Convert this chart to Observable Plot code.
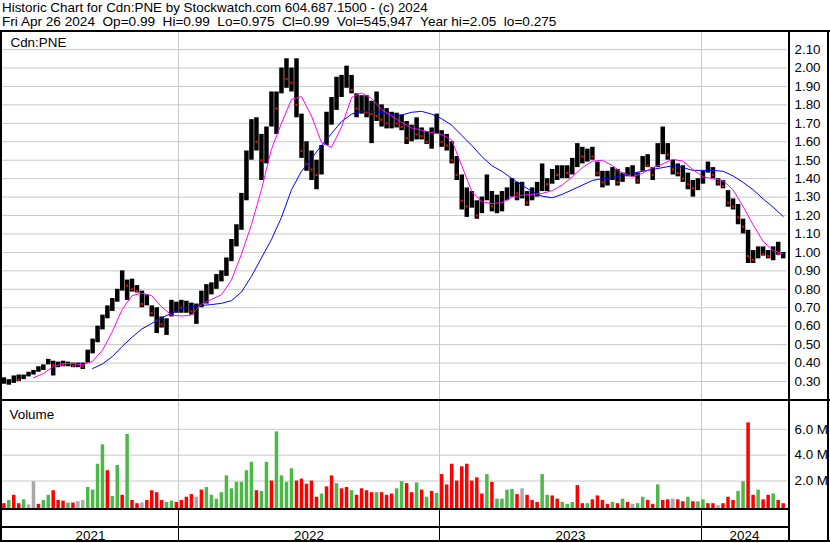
<!DOCTYPE html>
<html><head><meta charset="utf-8">
<script src="https://cdn.jsdelivr.net/npm/d3@7"></script>
<script src="https://cdn.jsdelivr.net/npm/@observablehq/plot@0.6"></script>
<style>
html,body{margin:0;padding:0;background:#fff;}
#root{position:relative;width:830px;height:543px;overflow:hidden;background:#fff;font-family:"Liberation Sans",Arial,sans-serif;color:#000;}
.hdr{position:absolute;left:2px;line-height:14px;white-space:pre;}
.ln{position:absolute;background:#000;}
.panel{position:absolute;left:0;}
.panel svg{display:block;overflow:visible;}
</style></head><body>
<div id="root">
  <div class="hdr" style="top:1px;font-size:13.4px">Historic Chart for Cdn:PNE by Stockwatch.com 604.687.1500 - (c) 2024</div>
  <div class="hdr" style="top:15px;font-size:13.6px">Fri Apr 26 2024  Op=0.99  Hi=0.99  Lo=0.975  Cl=0.99  Vol=545,947  Year hi=2.05  lo=0.275</div>
  <div class="panel" id="price" style="top:32px"></div>
  <div class="panel" id="volume" style="top:401px"></div>
  <div class="panel" id="time" style="top:509px"></div>
  <div class="ln" style="left:0;top:30px;width:830px;height:2px"></div>
  <div class="ln" style="left:0;top:399px;width:830px;height:2px"></div>
  <div class="ln" style="left:0;top:508px;width:790px;height:2px"></div>
  <div class="ln" style="left:0;top:526px;width:790px;height:2px"></div>
  <div class="ln" style="left:0;top:540px;width:830px;height:2px"></div>
  <div class="ln" style="left:0;top:30px;width:2px;height:512px"></div>
  <div class="ln" style="left:788px;top:30px;width:2px;height:512px"></div>
  <div class="ln" style="left:827px;top:30px;width:2px;height:512px"></div>
</div>
<script>
// ---------- data ----------
const symbol = "Cdn:PNE";
const firstWeek = "2021-04-28";   // weekly samples (Wednesdays)
const lastWeek = "2024-04-24";

const low = [
 0.285,0.28,0.29,0.30,0.31,0.325,0.335,0.35,0.36,0.39,
 0.33,0.375,0.38,0.38,0.375,0.375,0.365,0.40,0.45,0.51,
 0.58,0.64,0.68,0.73,0.79,0.74,0.785,0.78,0.70,0.71,
 0.65,0.56,0.59,0.55,0.65,0.67,0.67,0.67,0.66,0.61,
 0.70,0.72,0.77,0.80,0.84,0.87,0.95,1.03,1.12,1.28,
 1.50,1.55,1.39,1.48,1.68,1.64,1.86,1.89,1.87,1.73,
 1.51,1.44,1.39,1.34,1.42,1.58,1.69,1.77,1.84,1.89,
 1.86,1.73,1.75,1.73,1.59,1.71,1.68,1.67,1.67,1.675,
 1.66,1.585,1.60,1.61,1.61,1.585,1.56,1.64,1.57,1.55,
 1.48,1.39,1.23,1.19,1.24,1.18,1.21,1.28,1.22,1.21,
 1.22,1.28,1.30,1.28,1.29,1.25,1.28,1.30,1.33,1.33,
 1.37,1.39,1.40,1.40,1.42,1.46,1.48,1.49,1.50,1.41,
 1.35,1.36,1.39,1.36,1.38,1.41,1.41,1.37,1.44,1.46,
 1.39,1.46,1.53,1.50,1.42,1.41,1.38,1.34,1.30,1.335,
 1.37,1.43,1.40,1.36,1.345,1.245,1.23,1.15,1.10,0.94,
 0.94,0.965,0.98,0.965,0.955,0.985,0.965];
const high = [
 0.32,0.31,0.33,0.335,0.335,0.35,0.36,0.38,0.39,0.42,
 0.41,0.405,0.41,0.405,0.40,0.40,0.40,0.47,0.53,0.60,
 0.66,0.71,0.75,0.80,0.90,0.85,0.855,0.82,0.79,0.77,
 0.71,0.70,0.65,0.64,0.74,0.73,0.74,0.735,0.725,0.72,
 0.79,0.825,0.835,0.88,0.90,0.97,1.07,1.15,1.32,1.55,
 1.72,1.73,1.64,1.68,1.87,1.87,2.00,2.05,2.00,2.05,
 1.75,1.60,1.55,1.50,1.58,1.76,1.84,1.95,1.96,2.01,
 1.96,1.86,1.85,1.85,1.82,1.87,1.80,1.78,1.76,1.755,
 1.745,1.71,1.69,1.73,1.675,1.655,1.675,1.75,1.66,1.64,
 1.60,1.52,1.42,1.35,1.33,1.28,1.30,1.42,1.33,1.31,
 1.33,1.35,1.40,1.38,1.38,1.33,1.35,1.38,1.48,1.40,
 1.45,1.47,1.47,1.47,1.51,1.59,1.57,1.56,1.57,1.49,
 1.44,1.44,1.46,1.45,1.43,1.46,1.47,1.43,1.52,1.53,
 1.46,1.59,1.68,1.59,1.50,1.48,1.47,1.43,1.39,1.40,
 1.44,1.49,1.46,1.40,1.39,1.335,1.29,1.26,1.18,1.12,
 1.01,1.03,1.03,1.01,1.03,1.055,1.00];
const close = [
 0.295,0.30,0.32,0.31,0.33,0.34,0.355,0.37,0.385,0.40,
 0.39,0.395,0.39,0.40,0.385,0.39,0.38,0.46,0.52,0.59,
 0.65,0.70,0.73,0.78,0.84,0.82,0.80,0.79,0.72,0.73,
 0.67,0.63,0.61,0.63,0.70,0.71,0.70,0.71,0.68,0.70,
 0.77,0.80,0.82,0.86,0.88,0.95,1.04,1.12,1.28,1.50,
 1.62,1.60,1.50,1.62,1.80,1.78,1.95,1.94,1.92,1.80,
 1.55,1.48,1.45,1.42,1.55,1.72,1.80,1.90,1.90,1.93,
 1.88,1.78,1.80,1.76,1.75,1.74,1.72,1.70,1.72,1.70,
 1.68,1.62,1.66,1.64,1.63,1.60,1.65,1.68,1.60,1.58,
 1.50,1.42,1.28,1.25,1.27,1.20,1.28,1.31,1.25,1.29,
 1.30,1.33,1.35,1.32,1.35,1.27,1.33,1.36,1.38,1.37,
 1.43,1.42,1.45,1.43,1.48,1.55,1.52,1.54,1.52,1.43,
 1.38,1.42,1.43,1.38,1.41,1.44,1.45,1.39,1.48,1.47,
 1.42,1.56,1.57,1.53,1.45,1.43,1.40,1.37,1.35,1.38,
 1.42,1.46,1.42,1.38,1.36,1.27,1.25,1.19,1.14,0.98,
 0.96,1.00,0.99,0.98,1.01,0.99,0.99];
// moving averages, read every second week
const maShort = [
 null,null,null,0.32,0.343,0.38,0.397,0.397,0.39,0.41,
 0.47,0.57,0.69,0.765,0.78,0.765,0.705,0.66,0.655,0.66,
 0.72,0.745,0.77,0.85,0.99,1.15,1.34,1.56,1.70,1.83,
 1.845,1.74,1.595,1.57,1.68,1.84,1.865,1.835,1.775,1.74,
 1.705,1.675,1.663,1.65,1.64,1.61,1.47,1.33,1.275,1.265,
 1.27,1.30,1.31,1.315,1.32,1.335,1.365,1.41,1.46,1.495,
 1.50,1.47,1.43,1.41,1.43,1.46,1.48,1.505,1.495,1.45,
 1.41,1.40,1.39,1.34,1.25,1.15,1.06,1.01,0.992];
const maLong = [
 null,null,null,null,null,null,null,null,null,0.37,
 0.395,0.435,0.49,0.54,0.585,0.615,0.645,0.67,0.695,0.707,
 0.712,0.717,0.724,0.738,0.785,0.87,0.97,1.07,1.19,1.34,
 1.44,1.51,1.58,1.645,1.71,1.75,1.765,1.765,1.76,1.745,
 1.745,1.76,1.765,1.75,1.725,1.69,1.635,1.58,1.52,1.47,
 1.44,1.40,1.365,1.33,1.305,1.296,1.315,1.34,1.365,1.39,
 1.40,1.405,1.42,1.43,1.44,1.45,1.46,1.47,1.46,1.445,
 1.445,1.445,1.44,1.415,1.38,1.34,1.29,1.245,1.195];
// weekly peak volume, millions, and colour code (G up, R down, N unchanged)
const volumeM = [
 0.25,0.5,0.9,0.25,0.55,0.15,1.95,0.2,0.5,0.9,
 1.25,0.5,0.45,0.3,0.3,0.4,0.5,1.5,1.3,3.3,
 4.8,2.8,0.8,3.2,0.9,5.6,0.5,0.25,0.3,0.5,
 1.25,1.1,0.5,0.35,0.45,0.35,0.5,0.75,0.95,0.75,
 1.3,1.5,0.9,0.6,1.1,2.4,1.4,1.9,1.9,2.8,
 3.45,1.25,1.2,3.45,2.0,5.8,2.4,1.9,2.95,2.0,
 2.15,1.75,2.0,0.75,1.0,1.55,2.4,1.8,1.4,1.5,
 1.25,0.9,1.4,1.25,1.1,1.1,1.1,0.9,1.0,1.4,
 1.95,1.8,1.1,1.85,1.3,0.75,1.2,1.05,2.5,1.7,
 3.3,2.0,3.1,3.3,2.0,2.25,1.0,2.5,1.9,0.6,
 0.6,1.3,1.35,0.95,1.4,0.9,0.5,0.35,2.5,0.9,
 0.85,0.6,0.35,0.2,0.35,1.65,0.25,0.25,0.55,0.85,
 0.5,0.2,0.35,0.25,0.6,0.35,0.2,0.25,0.75,0.5,
 0.2,1.7,0.5,0.55,0.6,0.55,0.4,0.75,0.4,0.4,
 0.55,0.25,0.25,0.1,0.25,0.75,0.5,1.2,1.95,6.5,
 0.9,1.3,0.55,0.9,1.0,0.5,0.25];
const volumeDir = [
 "R","G","R","R","G","N","N","R","G","G",
 "R","R","R","G","R","N","N","G","G","G",
 "G","R","G","G","R","G","R","R","N","R",
 "R","R","R","G","G","R","R","R","R","N",
 "R","G","G","G","G","G","G","G","G","G",
 "G","R","G","G","R","G","G","G","G","R",
 "R","R","R","R","G","R","R","G","R","R",
 "G","R","R","R","R","G","R","R","R","G",
 "G","R","R","G","R","G","R","G","R","R",
 "R","R","R","R","R","R","R","G","R","G",
 "G","G","G","R","N","R","R","R","G","G",
 "R","R","G","G","G","R","R","G","R","R",
 "R","R","G","R","G","R","N","G","G","R",
 "R","G","R","R","N","R","R","G","R","G",
 "G","R","R","N","R","R","R","G","G","R",
 "R","G","R","R","G","R","R"];
const priceTicks = [0.30,0.40,0.50,0.60,0.70,0.80,0.90,1.00,1.10,1.20,1.30,1.40,1.50,1.60,1.70,1.80,1.90,2.00,2.10];
const volumeTicks = [2,4,6];
const years = ["2021","2022","2023","2024"];
const yearStarts = ["2022-01-01","2023-01-01","2024-01-01"];
const chartStart = "2021-04-26", chartEnd = "2024-04-30";

// ---------- build ----------
const weeks = d3.utcWednesday.range(new Date(firstWeek), d3.utcDay.offset(new Date(lastWeek), 1));
const bars = weeks.map((d, i) => ({date: d, low: low[i], high: high[i], close: close[i], prev: i ? close[i-1] : close[i]}));
const downMarks = bars.filter(b => b.close < b.prev);
const maData = weeks.filter((d, i) => i % 2 === 0).map((d, k) => ({date: d, s: maShort[k], l: maLong[k]}));
const volColors = {G: "#4cb848", R: "#ff0000", N: "#a8a8a8"};
const vols = weeks.map((d, i) => ({date: d, v: volumeM[i], c: volColors[volumeDir[i]]}));

const xDomain = [chartStart, ...yearStarts, chartEnd].map(s => new Date(s));
const xRange = [2, 178, 439, 701, 787];
const xOpt = {type: "utc", domain: xDomain, range: xRange, axis: null};
const yearMid = d3.pairs(xDomain).map(([a, b]) => new Date((+a + +b) / 2));
const yearRows = years.map((y, i) => ({y, date: yearMid[i]}));
const gridC = "#c8c8c8";
const FS = 13.4;
const baseStyle = {background: "transparent", fontFamily: "'Liberation Sans', Arial, sans-serif", fontSize: FS + "px", color: "#000", overflow: "visible"};

const pPriceLo = 0.30 - 18 / 184.4, pPriceHi = 0.30 + 349 / 184.4;
const price = Plot.plot({
  width: 830, height: 367, marginTop: 0, marginBottom: 0, marginLeft: 2, marginRight: 43,
  style: baseStyle,
  x: xOpt,
  y: {domain: [pPriceLo, pPriceHi], range: [367, 0], axis: null, label: null},
  marks: [
    Plot.ruleY(priceTicks, {stroke: gridC, strokeWidth: 1}),
    Plot.ruleX(yearStarts.map(s => new Date(s)), {stroke: gridC, strokeWidth: 1}),
    Plot.ruleX(bars, {x: "date", y1: "low", y2: "high", stroke: "#000", strokeWidth: 4.5}),
    Plot.dot(downMarks, {x: "date", y: "close", symbol: "square", r: 1.2, fill: "#ff0000", stroke: null}),
    Plot.line(maData, {x: "date", y: "l", stroke: "#0000ff", strokeWidth: 1, defined: d => d.l != null}),
    Plot.line(maData, {x: "date", y: "s", stroke: "#ff00ff", strokeWidth: 1, defined: d => d.s != null}),
    Plot.axisY(priceTicks, {anchor: "right", label: null, tickSize: 0, tickPadding: 7, tickFormat: d3.format(".2f"), fontSize: FS, fill: "#000"}),
    Plot.text([symbol], {frameAnchor: "top-left", textAnchor: "start", lineAnchor: "top", dx: 8, dy: 4.7, fontSize: FS, fill: "#000"})
  ]
});
document.getElementById("price").append(price);

const volume = Plot.plot({
  width: 830, height: 108, marginTop: 0, marginBottom: 0, marginLeft: 2, marginRight: 43,
  style: baseStyle,
  x: xOpt,
  y: {domain: [-0.2, 8.15], range: [108, 0], axis: null, label: null},
  marks: [
    Plot.ruleY(volumeTicks, {stroke: gridC}),
    Plot.ruleX(yearStarts.map(s => new Date(s)), {stroke: gridC}),
    Plot.ruleX(vols, {x: "date", y1: -0.2, y2: "v", stroke: "c", strokeWidth: 3.5}),
    Plot.axisY(volumeTicks, {anchor: "right", label: null, tickSize: 0, tickPadding: 7, tickFormat: d => d.toFixed(1) + " M", fontSize: FS, fill: "#000"}),
    Plot.text(["Volume"], {frameAnchor: "top-left", textAnchor: "start", lineAnchor: "top", dx: 7, dy: 8.3, fontSize: FS, fill: "#000"})
  ]
});
document.getElementById("volume").append(volume);

const time = Plot.plot({
  width: 830, height: 33, marginTop: 0, marginBottom: 0, marginLeft: 2, marginRight: 43,
  style: baseStyle,
  x: xOpt,
  y: {domain: [0, 1], range: [33, 0], axis: null},
  marks: [
    Plot.ruleX(yearStarts.map(s => new Date(s)), {stroke: "#000", strokeWidth: 1}),
    Plot.text(yearRows, {x: "date", text: "y", frameAnchor: "top", lineAnchor: "top", dy: 21, fontSize: FS, fill: "#000"})
  ]
});
document.getElementById("time").append(time);
</script>
</body></html>
